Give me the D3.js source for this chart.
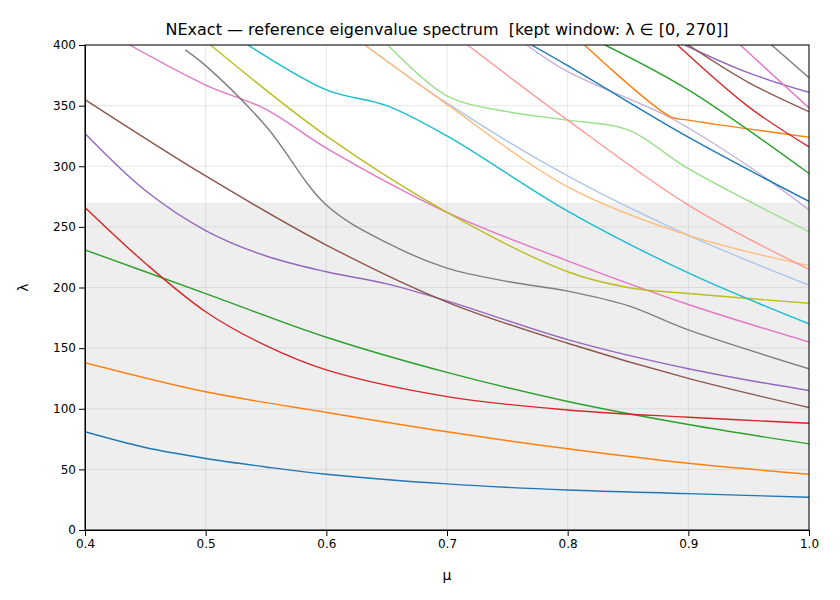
<!DOCTYPE html>
<html><head><meta charset="utf-8">
<script src="https://cdn.jsdelivr.net/npm/d3@7"></script>
<style>body{margin:0;background:#fff;font-family:"DejaVu Sans",sans-serif;}
.tick text{font-size:12px;font-family:"DejaVu Sans",sans-serif;fill:#000;}</style>
</head><body><div id="img"></div>
<script>
const mar = {top: 45, right: 31, bottom: 70, left: 85};
const wi = 840 - mar.left - mar.right;
const he = 600 - mar.top - mar.bottom;

// eigenvalue branches: [mu, lambda] samples
const colors = ["#1f77b4","#ff7f0e","#2ca02c","#d62728","#9467bd","#8c564b","#e377c2","#7f7f7f","#bcbd22","#17becf",
                "#aec7e8","#ffbb78","#98df8a","#ff9896","#c5b0d5",
                "#1f77b4","#ff7f0e","#2ca02c","#d62728","#9467bd","#8c564b","#e377c2","#7f7f7f"];
const branches = [
  [[0.4,81],[0.45,68],[0.5,59],[0.55,52],[0.6,46],[0.7,38],[0.8,33],[0.9,30],[1.0,27]],
  [[0.4,138],[0.5,114],[0.6,97],[0.7,81],[0.8,67],[0.9,55],[1.0,46]],
  [[0.4,231],[0.5,195],[0.6,159],[0.7,130],[0.8,106],[0.9,87],[1.0,71]],
  [[0.4,266],[0.45,220],[0.5,180],[0.55,152],[0.6,132],[0.7,110],[0.8,99],[0.9,93],[1.0,88]],
  [[0.4,327],[0.45,280],[0.5,247],[0.55,226],[0.6,213],[0.65,203],[0.7,189],[0.8,157],[0.9,133],[1.0,115]],
  [[0.4,355],[0.5,292],[0.6,235],[0.7,188],[0.8,154],[0.9,125],[1.0,101]],
  [[0.437,400],[0.5,367],[0.55,347],[0.6,315],[0.7,262],[0.8,222],[0.9,186],[1.0,155]],
  [[0.483,396],[0.5,383],[0.55,333],[0.6,268],[0.65,237],[0.7,216],[0.75,205],[0.8,197],[0.85,185],[0.9,165],[1.0,133]],
  [[0.504,400],[0.6,325],[0.7,262],[0.8,213],[0.85,200],[0.9,195],[1.0,187]],
  [[0.535,400],[0.6,363],[0.65,350],[0.7,325],[0.8,263],[0.9,212],[1.0,170]],
  [[0.632,400],[0.7,352],[0.8,292],[0.9,243],[1.0,202]],
  [[0.632,400],[0.7,351],[0.8,283],[0.9,243],[1.0,218]],
  [[0.651,400],[0.7,358],[0.75,345],[0.8,338],[0.85,330],[0.9,298],[1.0,246]],
  [[0.717,400],[0.8,338],[0.9,268],[1.0,215]],
  [[0.766,400],[0.8,378],[0.885,340],[0.95,300],[1.0,264]],
  [[0.77,400],[0.8,383],[0.9,324],[1.0,271]],
  [[0.814,400],[0.885,341],[0.9,338],[1.0,324]],
  [[0.831,400],[0.9,363],[1.0,294]],
  [[0.891,400],[0.95,349],[1.0,316]],
  [[0.897,400],[0.95,377],[1.0,361]],
  [[0.9,400],[0.95,369],[1.0,345]],
  [[0.943,400],[1.0,348]],
  [[0.969,400],[1.0,373]]
];

var svg1 = d3.select("#img").append("svg")
  .attr("width", 840).attr("height", 600);
var g = svg1.append("g").attr("transform", `translate(${mar.left},${mar.top})`);

var x = d3.scaleLinear().domain([0.4, 1.0]).range([0, wi]);
var y = d3.scaleLinear().domain([0, 400]).range([he, 0]);

// kept window shading
g.append("rect").attr("x", 0).attr("width", wi)
  .attr("y", y(270)).attr("height", y(0) - y(270)).attr("fill", "#eeeeee");

// grid
g.selectAll(".gx").data(x.ticks(6)).enter().append("line")
  .attr("x1", d => x(d)).attr("x2", d => x(d)).attr("y1", 0).attr("y2", he)
  .attr("stroke", "#b0b0b0").attr("stroke-opacity", 0.3);
g.selectAll(".gy").data(y.ticks(8)).enter().append("line")
  .attr("y1", d => y(d)).attr("y2", d => y(d)).attr("x1", 0).attr("x2", wi)
  .attr("stroke", "#b0b0b0").attr("stroke-opacity", 0.3);

g.append("clipPath").attr("id", "clip").append("rect").attr("width", wi).attr("height", he);

var line = d3.line().x(d => x(d[0])).y(d => y(d[1])).curve(d3.curveCatmullRom.alpha(0.5));
g.append("g").attr("clip-path", "url(#clip)")
  .selectAll("path").data(branches).enter().append("path")
  .attr("d", line).attr("fill", "none")
  .attr("stroke", (d, i) => colors[i]).attr("stroke-width", 1.4);

// axes
g.append("g").attr("transform", `translate(0,${he})`)
  .call(d3.axisBottom(x).ticks(6).tickFormat(d3.format(".1f")).tickSizeOuter(0));
g.append("g").call(d3.axisLeft(y).ticks(8).tickSizeOuter(0));

g.append("rect").attr("width", wi).attr("height", he).attr("fill", "none").attr("stroke", "#000");

svg1.append("text").attr("x", mar.left + wi / 2).attr("y", 580).attr("text-anchor", "middle")
  .style("font-size", "14px").text("μ");
svg1.append("text").attr("transform", `translate(28,${mar.top + he / 2}) rotate(-90)`)
  .attr("text-anchor", "middle").style("font-size", "14px").text("λ");
svg1.append("text").attr("x", mar.left + wi / 2).attr("y", 35).attr("text-anchor", "middle")
  .style("font-size", "16px").style("white-space", "pre")
  .text("NExact — reference eigenvalue spectrum  [kept window: λ ∈ [0, 270]]");
</script></body></html>
